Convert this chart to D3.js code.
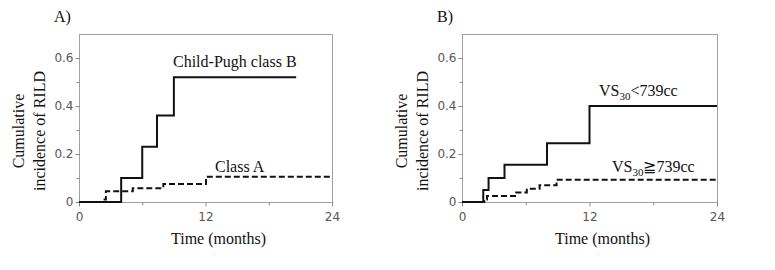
<!DOCTYPE html>
<html>
<head>
<meta charset="utf-8">
<title>Cumulative incidence of RILD</title>
<script src="https://d3js.org/d3.v7.min.js"></script>
<style>
  body { margin: 0; background: #fff; }
  .frame { fill: none; stroke: #a0a0a0; stroke-width: 1px; }
  .axis path { display: none; }
  .axis line { stroke: #8a8a8a; }
  .axis text { font-family: "DejaVu Sans", Verdana, sans-serif; font-size: 12px; fill: #555; }
  .serif { font-family: "Liberation Serif", "Times New Roman", serif; font-size: 16px; fill: #111; }
  .curve { fill: none; stroke: #111; stroke-width: 2px; }
  .dashed { stroke-dasharray: 6,3; }
</style>
</head>
<body>
<div id="chart"></div>
<script>
// axis ticks
const timeTicks = [0, 12, 24];
const timeMinor = [6, 18];
const incTicks = [0, 0.2, 0.4, 0.6];
const incMinor = [0.1, 0.3, 0.5];

// step curves: [time (months), cumulative incidence from that time on]
const classB = [[0, 0], [4, 0.10], [6, 0.23], [7.4, 0.36], [9, 0.52], [20.6, 0.52]];
const classA = [[0, 0], [2.2, 0.01], [2.55, 0.045], [5.1, 0.057], [8, 0.075], [12.05, 0.105], [24, 0.105]];
const vsLow = [[0, 0], [2, 0.05], [2.5, 0.10], [4, 0.155], [8, 0.245], [12, 0.40], [24, 0.40]];
const vsHigh = [[0, 0], [2.1, 0.01], [2.35, 0.025], [5.1, 0.04], [6.1, 0.055], [7.3, 0.07], [8.9, 0.093], [24, 0.093]];

const panels = [
  { tag: "A)", left: 79, right: 332, top: 34, bottom: 202,
    solid: classB, dashed: classA,
    solidLabel: { x: 173, y: 67, main: "Child-Pugh class B" },
    dashedLabel: { x: 215, y: 172, main: "Class A" } },
  { tag: "B)", left: 462, right: 717, top: 34, bottom: 202,
    solid: vsLow, dashed: vsHigh,
    solidLabel: { x: 599, y: 96, main: "VS", sub: "30", rest: "<739cc" },
    dashedLabel: { x: 612, y: 172, main: "VS", sub: "30", rest: "\u2267739cc" } }
];

const svg = d3.select("#chart").append("svg")
  .attr("width", 775)
  .attr("height", 270);

panels.forEach(p => {
  const x = d3.scaleLinear().domain([0, 24]).range([p.left, p.right]);
  const y = d3.scaleLinear().domain([0, 0.7]).range([p.bottom, p.top]);
  const g = svg.append("g");

  // frame
  g.append("rect")
    .attr("class", "frame")
    .attr("x", p.left + 0.5)
    .attr("y", p.top + 0.5)
    .attr("width", p.right - p.left)
    .attr("height", p.bottom - p.top);

  // axes
  g.append("g")
    .attr("class", "axis")
    .attr("transform", `translate(0,${p.bottom + 0.5})`)
    .call(d3.axisBottom(x).tickValues(timeTicks).tickSize(4).tickPadding(6).tickFormat(d3.format("d")));
  g.append("g")
    .attr("class", "axis")
    .attr("transform", `translate(0,${p.bottom + 0.5})`)
    .call(d3.axisBottom(x).tickValues(timeMinor).tickSize(3).tickFormat(""));
  g.append("g")
    .attr("class", "axis")
    .attr("transform", `translate(${p.left + 0.5},0)`)
    .call(d3.axisLeft(y).tickValues(incTicks).tickSize(4).tickPadding(2)
      .tickFormat(d => d === 0 ? "0" : d3.format(".1f")(d)));
  g.append("g")
    .attr("class", "axis")
    .attr("transform", `translate(${p.left + 0.5},0)`)
    .call(d3.axisLeft(y).tickValues(incMinor).tickSize(3).tickFormat(""));

  // curves
  const line = d3.line()
    .x(d => x(d[0]))
    .y(d => y(d[1]))
    .curve(d3.curveStepAfter);
  g.append("path").attr("class", "curve dashed").attr("d", line(p.dashed));
  g.append("path").attr("class", "curve").attr("d", line(p.solid));

  // curve labels
  [p.solidLabel, p.dashedLabel].forEach(l => {
    const t = g.append("text").attr("class", "serif").attr("x", l.x).attr("y", l.y);
    t.append("tspan").text(l.main);
    if (l.sub) {
      t.append("tspan").attr("dy", 4).style("font-size", "11px").text(l.sub);
      t.append("tspan").attr("dy", -4).text(l.rest);
    }
  });

  // panel tag
  g.append("text")
    .attr("class", "serif")
    .attr("x", p.left - 25)
    .attr("y", 22)
    .text(p.tag);

  // axis titles
  const cx = (p.left + p.right) / 2 + 13;
  g.append("text")
    .attr("class", "serif")
    .attr("x", cx)
    .attr("y", 238)
    .attr("dy", "0.35em")
    .attr("text-anchor", "middle")
    .text("Time (months)");

  const cy = (p.top + p.bottom) / 2 + 13;
  [["Cumulative", p.left - 61], ["incidence of RILD", p.left - 40]].forEach(([s, lx]) => {
    g.append("text")
      .attr("class", "serif")
      .attr("transform", `translate(${lx},${cy}) rotate(-90)`)
      .attr("dy", "0.35em")
      .attr("text-anchor", "middle")
      .text(s);
  });
});
</script>
</body>
</html>
